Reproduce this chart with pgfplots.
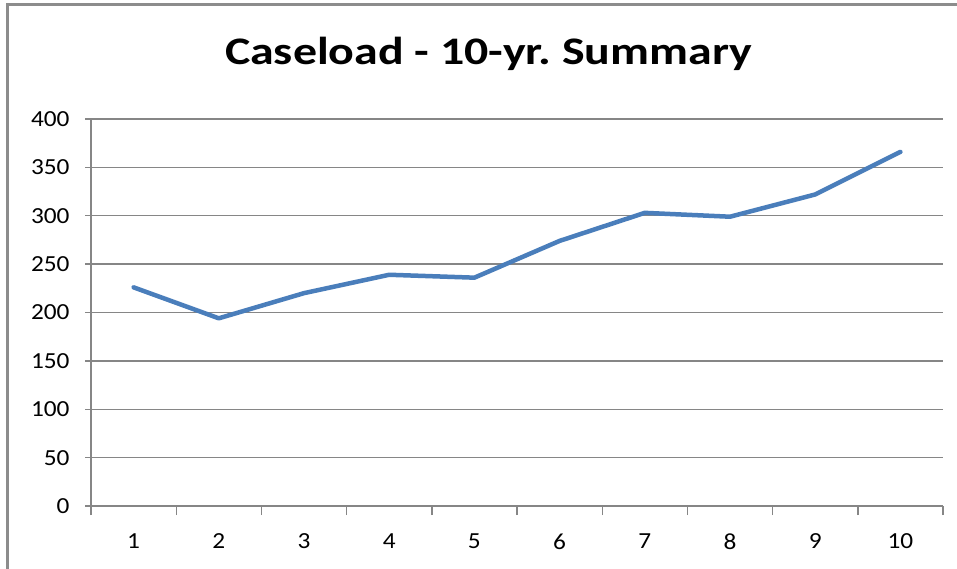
\documentclass[border=0pt]{standalone}
\usepackage{fontspec}
\setmainfont{Carlito}
\newfontfamily\tickfont[FakeStretch=1.1]{Carlito}
\usepackage{graphicx}
\usepackage{pgfplots}
\pgfplotsset{compat=1.18}
\definecolor{gridgray}{HTML}{868686}
\definecolor{framegray}{HTML}{8C8C8C}
\definecolor{lineblue}{HTML}{4A7EBB}
\begin{document}
\frenchspacing
\begin{tikzpicture}[x=1pt,y=1pt]
\useasboundingbox (0,0) rectangle (957,-569);
\fill[white] (0,0) rectangle (957,-569);
\draw[framegray, line width=2.5pt] (7.5,-4.5) rectangle (1000,-620);
\node[anchor=base, inner sep=0pt] at (488.5,-64.3) {\resizebox{527pt}{\height}{\fontsize{39}{45}\selectfont\bfseries Caseload - 10-yr.\ Summary}};
\begin{axis}[at={(91pt,-506pt)}, anchor=south west, scale only axis,
  width=852pt, height=387pt,
  xmin=0.5, xmax=10.5, ymin=0, ymax=400,
  axis lines*=left,
  axis line style={gridgray, line width=2.2pt},
  ytick={0,50,...,400},
  xtick={1,...,10},
  minor xtick={0.5,1.5,...,10.5},
  tick align=outside,
  major tick length=6pt,
  minor tick length=9pt,
  xtick style={draw=none},
  minor x tick style={draw=gridgray, line width=1.4pt},
  ytick style={gridgray, line width=1.4pt},
  ymajorgrids,
  grid style={gridgray, line width=1.4pt},
  ticklabel style={font=\tickfont\fontsize{23}{27}\selectfont},
  yticklabel style={xshift=-12pt},
  xticklabel style={yshift=-18pt},
  /pgf/number format/assume math mode=true,
  clip=false,
]
\addplot[lineblue, line width=4.5pt, line join=round, line cap=round] coordinates {
(1,226) (2,194) (3,220) (4,239) (5,236) (6,274) (7,303) (8,299) (9,322) (10,366)
};
\end{axis}
\end{tikzpicture}
\end{document}
